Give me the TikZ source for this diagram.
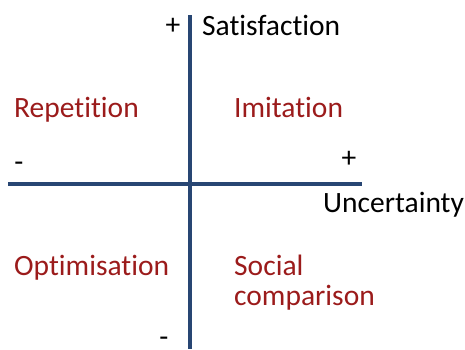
\documentclass[tikz,border=0pt]{standalone}
\usepackage{fontspec}
\setmainfont{Carlito}[RawFeature={-liga;-clig;-calt;-dlig}]
\definecolor{axisblue}{RGB}{40,70,115}
\definecolor{labelred}{RGB}{155,27,27}
\begin{document}
\begin{tikzpicture}[x=1pt,y=-1pt,
  axis/.style={draw=axisblue, line width=4pt},
  quad/.style={text=labelred, anchor=base west, inner sep=0pt, font=\fontsize{29.5}{30}\selectfont},
  axlabel/.style={anchor=base west, inner sep=0pt, font=\fontsize{29.5}{30}\selectfont},
  sign/.style={inner sep=0pt, font=\fontsize{29.5}{30}\selectfont}]
\useasboundingbox (0,0) rectangle (465,349);
% axes
\coordinate (top) at (190,15);
\coordinate (bottom) at (190,349);
\coordinate (left) at (8,184);
\coordinate (right) at (362,184);
\draw[axis] (top) -- (bottom);
\draw[axis] (left) -- (right);
% axis labels and signs
\node[axlabel] (sat) at (202,35) {Satisfaction};
\node[axlabel] (unc) at (323,212) {Uncertainty};
\node[sign] (splus) at (173,26) {+};
\node[sign] (uplus) at (349,159) {+};
\node[sign] (uminus) at (19,167) {-};
\node[sign] (sminus) at (164,342) {-};
% quadrants
\node[quad] (rep) at (14,117) {Repetition};
\node[quad] (imi) at (234,117) {Imitation};
\node[quad] (opt) at (14,275) {Optimisation};
\node[quad, align=left] (soc) at (234,305) {Social\\comparison};
\end{tikzpicture}
\end{document}
